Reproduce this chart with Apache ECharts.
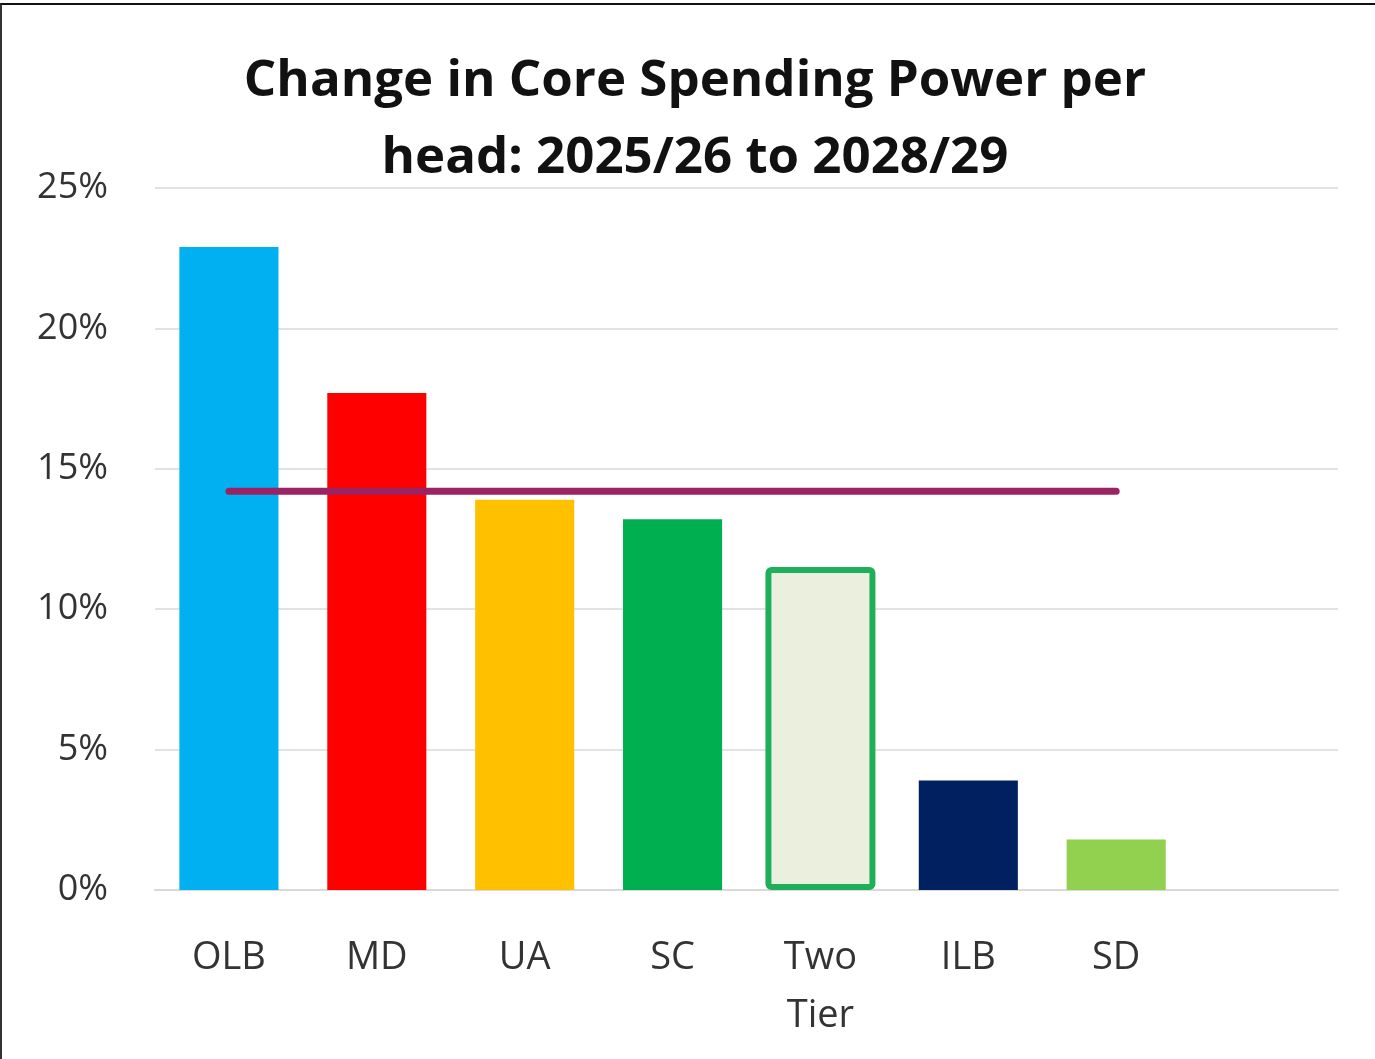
<!DOCTYPE html>
<html><head><meta charset="utf-8">
<script src="https://cdn.jsdelivr.net/npm/echarts@6/dist/echarts.min.js"></script>
<style>
html,body{margin:0;padding:0;background:#fff;}
#frame{position:absolute;left:0;top:3px;width:1375px;height:1056px;border-top:2px solid #111;border-left:2px solid #333;box-sizing:border-box;}
#chart{position:absolute;left:0;top:0;width:1375px;height:1059px;}
</style></head>
<body>
<div id="frame"></div>
<div id="chart"></div>
<script>
const categories = ['OLB','MD','UA','SC','Two\nTier','ILB','SD',''];
const values = [22.9, 17.7, 13.9, 13.2, null, 3.9, 1.8, null];
const twoTierValues = [null, null, null, null, 11.5, null, null, null];
const barColors = ['#00B0F0','#FF0000','#FFC000','#00B050','#EBF0DE','#002060','#92D050',''];
const averageValues = [14.2, 14.2, 14.2, 14.2, 14.2, 14.2, 14.2, null];
const yTicks = [0, 5, 10, 15, 20, 25];

const barData = values.map((v, i) => v === null ? null : { value: v, itemStyle: { color: barColors[i] } });

const chart = echarts.init(document.getElementById('chart'), null, { renderer: 'canvas' });
chart.setOption({
  animation: false,
  backgroundColor: 'transparent',
  title: {
    text: 'Change in Core Spending Power per\nhead: 2025/26 to 2028/29',
    left: 690, top: 38, textAlign: 'center',
    textStyle: { fontFamily: 'Open Sans', fontWeight: 'bold', fontSize: 51, lineHeight: 77, color: '#111' }
  },
  grid: { left: 155, right: 37, top: 188, bottom: 169, containLabel: false },
  xAxis: [{
    type: 'category', data: categories,
    axisLine: { show: true, lineStyle: { color: '#d9d9d9', width: 2 } },
    axisTick: { show: false },
    axisLabel: { interval: 0, margin: 39, verticalAlign: 'top', lineHeight: 58, fontFamily: 'Open Sans', fontSize: 38, color: '#333' }
  }, {
    type: 'category', data: categories, show: false, position: 'bottom'
  }],
  yAxis: {
    type: 'value', min: yTicks[0], max: yTicks[yTicks.length - 1], interval: 5,
    axisLine: { show: false }, axisTick: { show: false },
    splitLine: { lineStyle: { color: '#d9d9d9', width: 1.5 } },
    axisLabel: { formatter: '{value}%', margin: 47, fontFamily: 'Open Sans', fontSize: 36, color: '#333' }
  },
  series: [
    { type: 'bar', data: barData, barWidth: '67%' },
    { type: 'bar', xAxisIndex: 1, data: twoTierValues, barWidth: 110,
      itemStyle: { color: barColors[4], borderColor: '#1FAF5A', borderWidth: 6, borderRadius: 3 } },
    { type: 'line', data: averageValues, symbol: 'none', z: 5,
      lineStyle: { color: '#9B2263', width: 7, cap: 'round' } }
  ]
});
</script>
</body></html>
